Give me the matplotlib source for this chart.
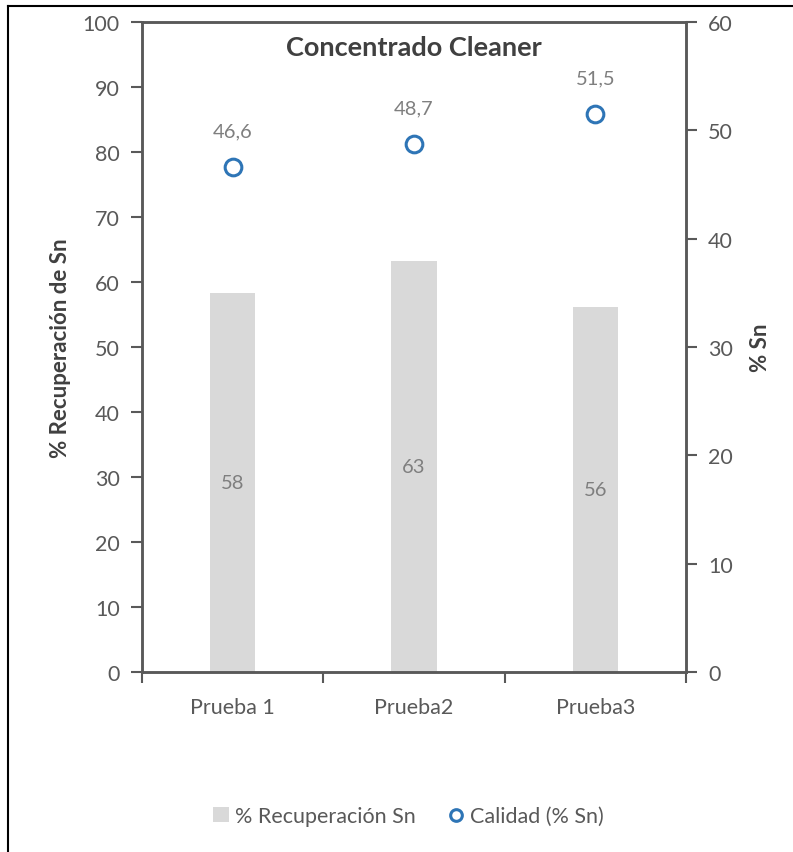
import numpy as np
import matplotlib.pyplot as plt
from matplotlib.lines import Line2D

plt.rcParams['font.family'] = ['Lato', 'DejaVu Sans']

# Data
categories = ['Prueba 1', 'Prueba2', 'Prueba3']
recuperacion = [58.3, 63.2, 56.2]
calidad = [46.6, 48.7, 51.5]
rec_labels = ['58', '63', '56']
cal_labels = ['46,6', '48,7', '51,5']

bar_color = '#D9D9D9'
dot_color = '#2E75B6'
tick_color = '#595959'
label_color = '#404040'
data_color = '#7F7F7F'

fig = plt.figure(figsize=(7.93, 8.53), dpi=100)
ax = fig.add_axes([0.179, 0.211, 0.686, 0.762])
ax2 = ax.twinx()

x = np.arange(len(categories))
ax.bar(x, recuperacion, width=0.25, color=bar_color, zorder=2, label='% Recuperación Sn')
for i in range(len(x)):
    ax.text(x[i], recuperacion[i] / 2, rec_labels[i], ha='center', va='center',
            fontsize=14.5, color=data_color)

ax2.plot(x, calidad, 'o', markersize=12, markerfacecolor='white',
         markeredgecolor=dot_color, markeredgewidth=2.2, label='Calidad (% Sn)')
for i in range(len(x)):
    ax2.annotate(cal_labels[i], (x[i], calidad[i]), xytext=(0, 20),
                 textcoords='offset points', ha='center', va='bottom',
                 fontsize=14.5, color=data_color)

ax.set_xlim(-0.5, 2.5)
ax.set_ylim(0, 100)
ax2.set_ylim(0, 60)
ax.set_yticks(np.arange(0, 101, 10))
ax2.set_yticks(np.arange(0, 61, 10))

ax.set_xticks(x)
ax.set_xticklabels(categories, fontsize=15.5, color=tick_color)
ax.set_xticks([-0.5, 0.5, 1.5, 2.5], minor=True)
ax.tick_params(axis='x', which='major', length=0, pad=18)
ax.tick_params(axis='x', which='minor', length=8, width=1.5, color=tick_color)
ax.tick_params(axis='y', length=8, width=1.5, color=tick_color, labelsize=15.5,
               labelcolor=tick_color, pad=8)
ax2.tick_params(axis='y', length=8, width=1.5, color=tick_color, labelsize=15.5,
                labelcolor=tick_color, pad=8)

for a in (ax, ax2):
    for s in a.spines.values():
        s.set_color(tick_color)
        s.set_linewidth(1.8)

ax.set_ylabel('% Recuperación de Sn', fontsize=16, fontweight='bold',
              color=label_color, labelpad=8)
ax2.set_ylabel('% Sn', fontsize=16, fontweight='bold', color=label_color, labelpad=12)
ax.text(0.5, 0.961, 'Concentrado Cleaner', transform=ax.transAxes, ha='center',
        va='center', fontsize=19.5, fontweight='bold', color=label_color)

# Legend below the plot
h1, l1 = ax.get_legend_handles_labels()
h2, l2 = ax2.get_legend_handles_labels()
fig.legend(h1 + h2, l1 + l2, loc='center', bbox_to_anchor=(0.515, 0.042), ncol=2,
           frameon=False, fontsize=15.5, labelcolor=tick_color, handlelength=0.7,
           handletextpad=0.3, columnspacing=1.5, markerscale=0.7)

# Outer chart border (left and top visible)
fig.add_artist(Line2D([0.0101, 0.0101], [0.0, 0.9918], color='black', lw=1.5))
fig.add_artist(Line2D([0.0101, 1.0], [0.9918, 0.9918], color='black', lw=1.5))

fig.savefig('out.png', dpi=100)
